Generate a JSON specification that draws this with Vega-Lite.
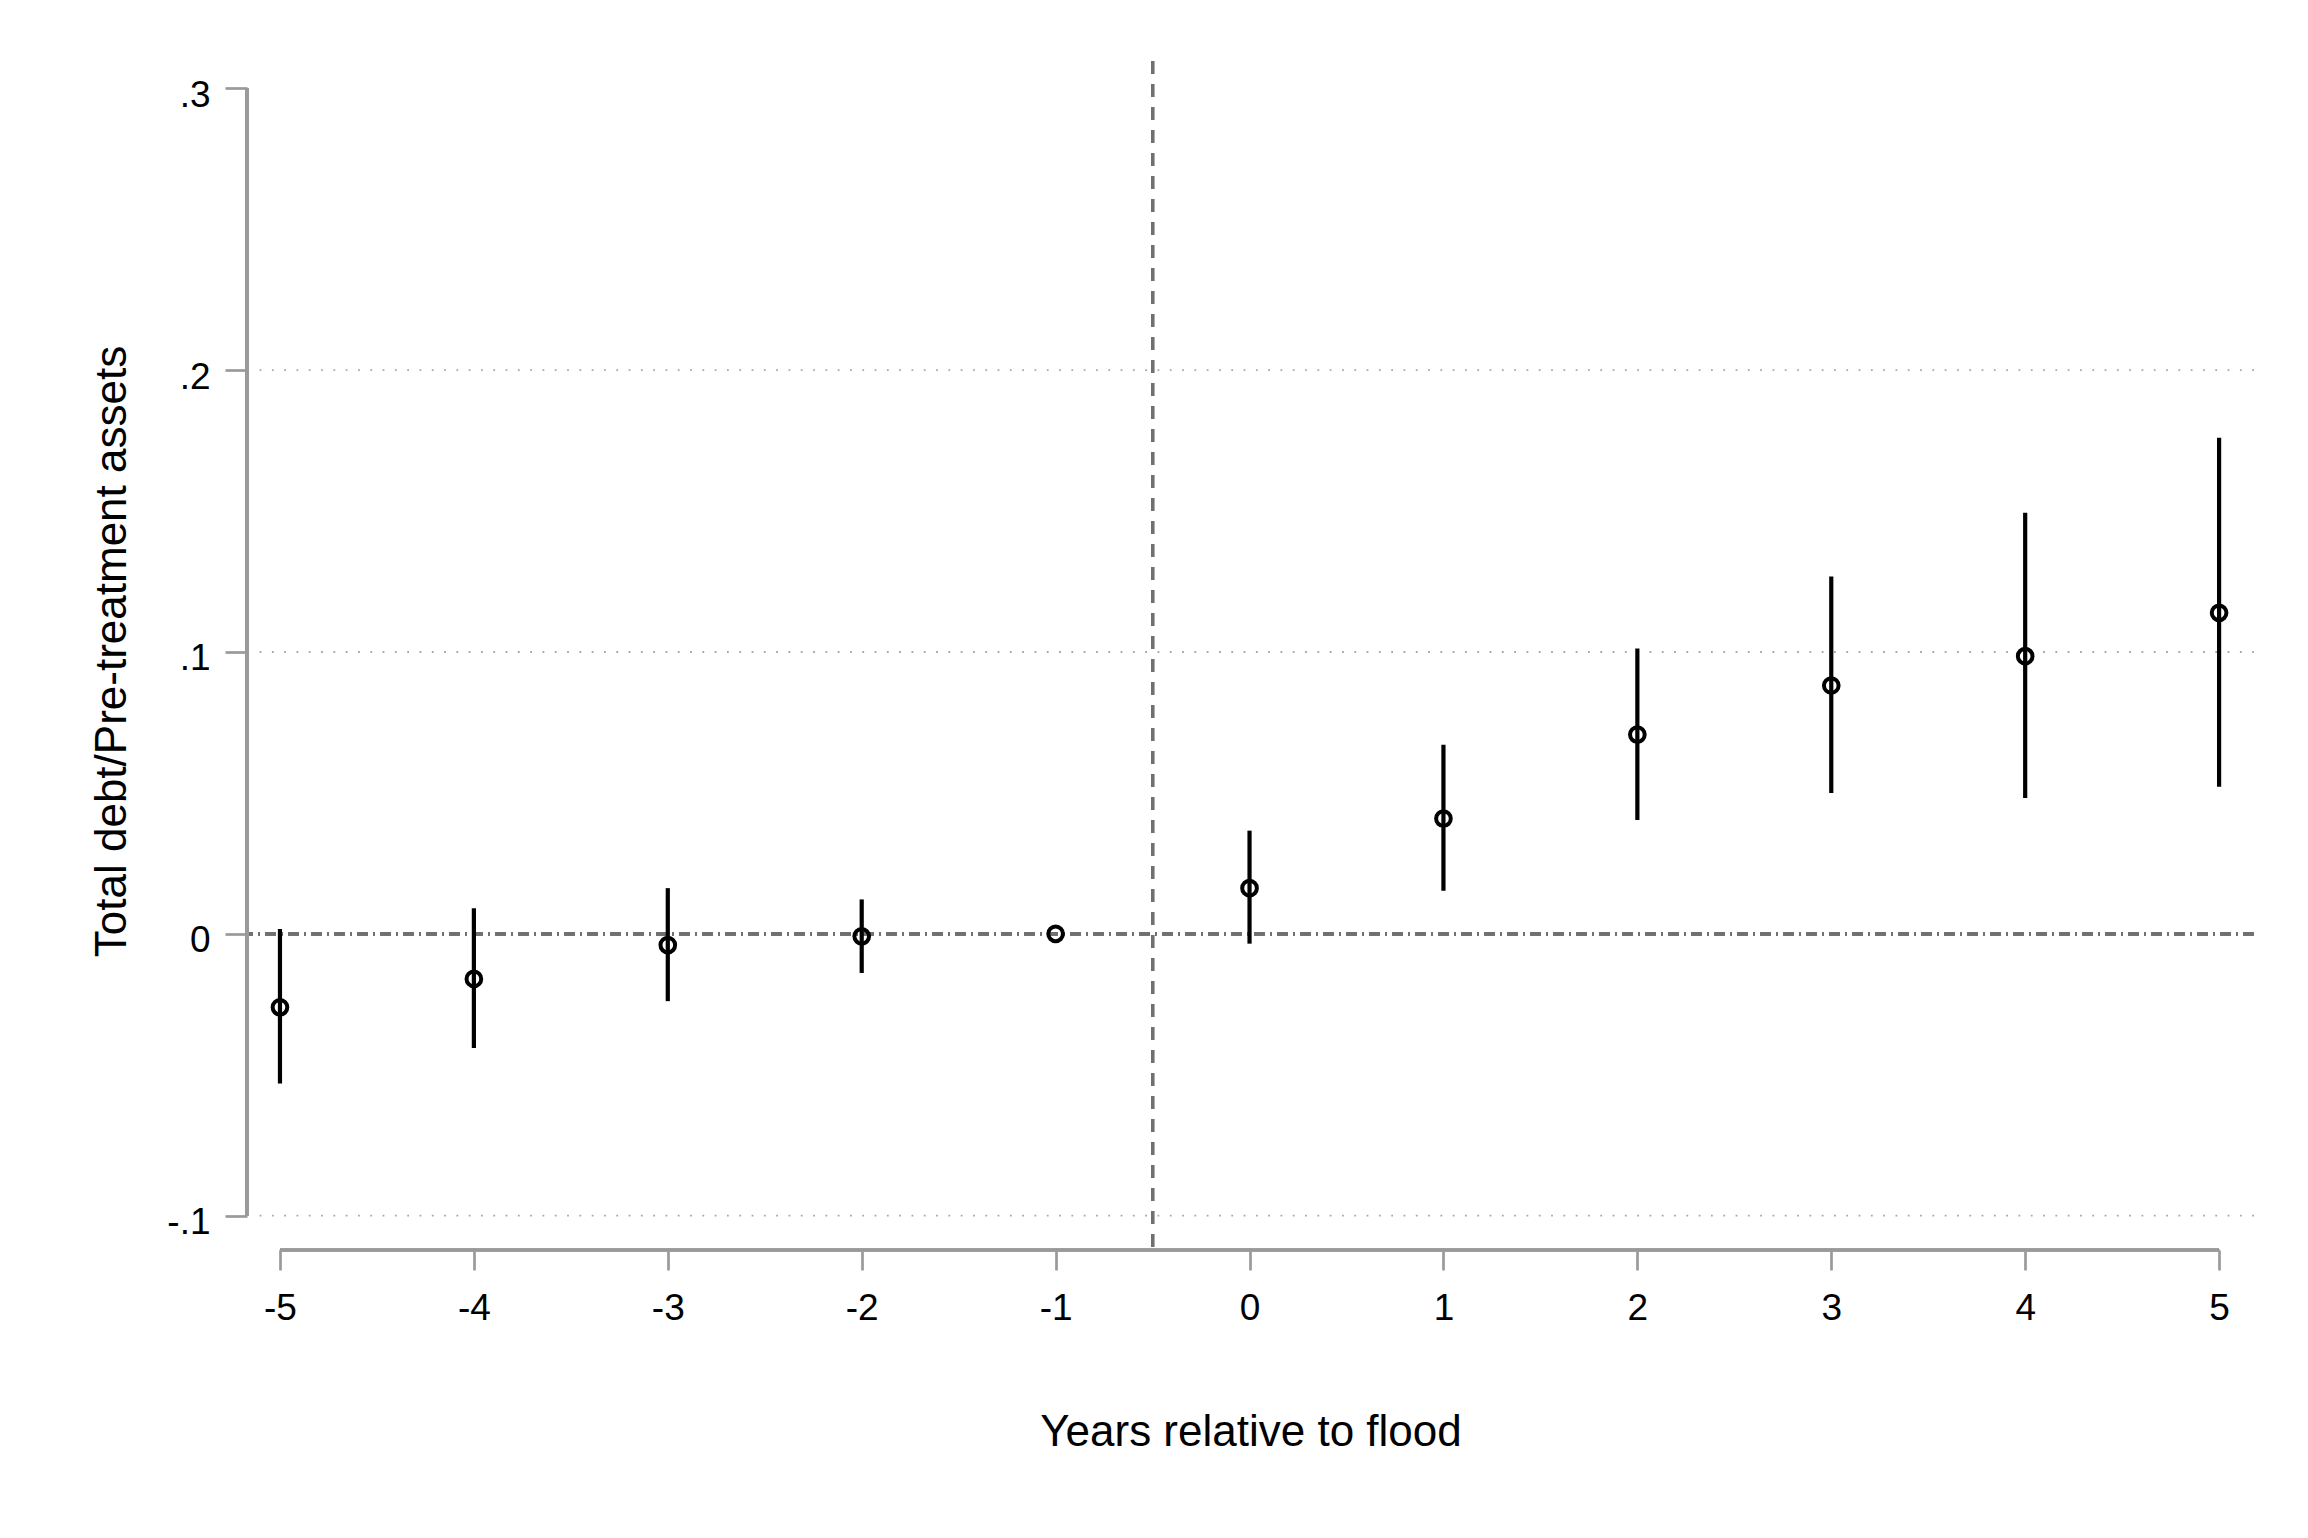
{
  "$schema": "https://vega.github.io/schema/vega-lite/v6.json",
  "autosize": "none",
  "width": 2007,
  "height": 1189,
  "padding": {"left": 247, "top": 61, "right": 54, "bottom": 288},
  "background": "white",
  "datasets": {
    "est": [
      {"year": -5, "coef": -0.0261, "lo": -0.0531, "hi": 0.0017},
      {"year": -4, "coef": -0.0160, "lo": -0.0405, "hi": 0.0091},
      {"year": -3, "coef": -0.0040, "lo": -0.0239, "hi": 0.0162},
      {"year": -2, "coef": -0.0009, "lo": -0.0139, "hi": 0.0122},
      {"year": -1, "coef": 0.0, "lo": null, "hi": null},
      {"year": 0, "coef": 0.0162, "lo": -0.0035, "hi": 0.0366},
      {"year": 1, "coef": 0.0409, "lo": 0.0153, "hi": 0.0671},
      {"year": 2, "coef": 0.0707, "lo": 0.0404, "hi": 0.1012},
      {"year": 3, "coef": 0.0881, "lo": 0.0500, "hi": 0.1268},
      {"year": 4, "coef": 0.0985, "lo": 0.0482, "hi": 0.1494},
      {"year": 5, "coef": 0.1139, "lo": 0.0522, "hi": 0.1760}
    ],
    "grid": [{"v": -0.1}, {"v": 0.1}, {"v": 0.2}]
  },
  "data": {"name": "est"},
  "layer": [
    {
      "data": {"name": "grid"},
      "mark": {"type": "rule", "color": "#a8a8a8", "strokeWidth": 1.8, "strokeDash": [1.8, 10.5]},
      "encoding": {
        "y": {"field": "v", "type": "quantitative"},
        "x": {"datum": -5.105},
        "x2": {"datum": 5.18}
      }
    },
    {
      "mark": {"type": "rule", "color": "#707070", "strokeWidth": 3, "strokeDash": [11, 5, 2, 5]},
      "encoding": {"y": {"datum": 0}}
    },
    {
      "mark": {"type": "rule", "color": "#707070", "strokeWidth": 3, "strokeDash": [13, 10]},
      "encoding": {"x": {"datum": -0.5}}
    },
    {
      "mark": {"type": "rule", "color": "#9a9a9a", "strokeWidth": 2.7},
      "encoding": {
        "x": {"datum": -5.17},
        "y": {"datum": -0.1},
        "y2": {"datum": 0.3}
      }
    },
    {
      "mark": {"type": "rule", "color": "#9a9a9a", "strokeWidth": 2.7},
      "encoding": {
        "y": {"datum": -0.1122},
        "x": {"datum": -5},
        "x2": {"datum": 5}
      }
    },
    {
      "transform": [{"filter": "datum.lo != null"}],
      "mark": {"type": "rule", "color": "black", "strokeWidth": 4.2},
      "encoding": {
        "x": {"field": "year", "type": "quantitative"},
        "y": {"field": "lo", "type": "quantitative"},
        "y2": {"field": "hi"}
      }
    },
    {
      "mark": {"type": "point", "shape": "circle", "filled": false, "color": "black", "strokeWidth": 4, "size": 215, "opacity": 1},
      "encoding": {
        "x": {
          "field": "year",
          "type": "quantitative",
          "scale": {"domain": [-5.17, 5.18], "nice": false, "zero": false},
          "axis": {
            "title": "Years relative to flood",
            "values": [-5, -4, -3, -2, -1, 0, 1, 2, 3, 4, 5],
            "labelExpr": "'' + datum.value",
            "domain": false,
            "grid": false,
            "tickSize": 20,
            "tickWidth": 2.7,
            "tickColor": "#9a9a9a",
            "labelFont": "Liberation Sans, sans-serif",
            "labelFontSize": 37,
            "labelColor": "black",
            "labelPadding": 20,
            "titleFont": "Liberation Sans, sans-serif",
            "titleFontSize": 44,
            "titleFontWeight": "normal",
            "titleColor": "black",
            "titleBaseline": "alphabetic",
            "titleY": 195
          }
        },
        "y": {
          "field": "coef",
          "type": "quantitative",
          "scale": {"domain": [-0.1122, 0.3097], "nice": false, "zero": false},
          "axis": {
            "title": "Total debt/Pre-treatment assets",
            "values": [-0.1, 0, 0.1, 0.2, 0.3],
            "labelExpr": "datum.value == 0 ? '0' : replace('' + datum.value, '0.', '.')",
            "domain": false,
            "grid": false,
            "tickSize": 22,
            "tickWidth": 2.7,
            "tickColor": "#9a9a9a",
            "labelFont": "Liberation Sans, sans-serif",
            "labelFontSize": 37,
            "labelColor": "black",
            "labelPadding": 15,
            "labelOffset": 7,
            "titleFont": "Liberation Sans, sans-serif",
            "titleFontSize": 44,
            "titleFontWeight": "normal",
            "titleColor": "black",
            "titleBaseline": "alphabetic",
            "titleX": -122,
            "titleY": 590
          }
        }
      }
    }
  ],
  "config": {
    "view": {"stroke": null}
  }
}
